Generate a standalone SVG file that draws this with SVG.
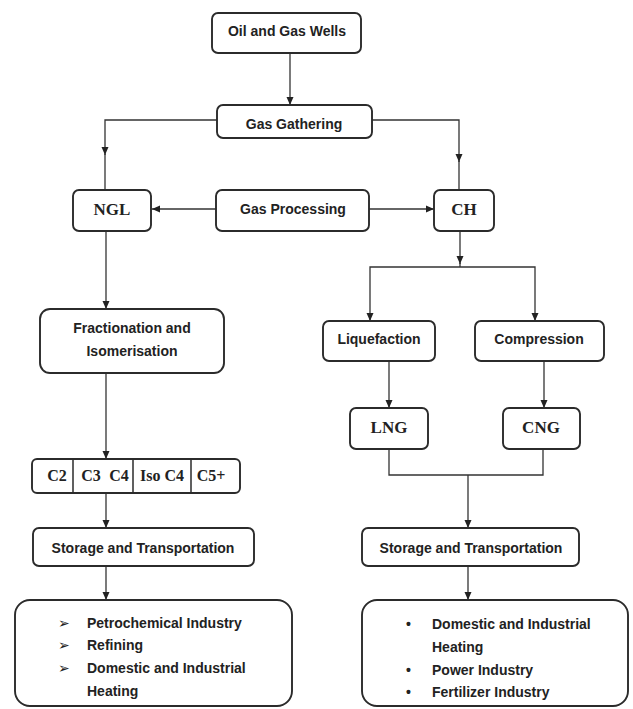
<svg xmlns="http://www.w3.org/2000/svg" width="633" height="709" viewBox="0 0 633 709">
<style>
.box{fill:#fff;stroke:#2b2b2b;stroke-width:1.9}
.lbl{font-family:"Liberation Sans",Arial,sans-serif;font-weight:bold;font-size:14px;fill:#222;text-anchor:middle}
.ser{font-family:"Liberation Serif","Times New Roman",serif;font-weight:bold;font-size:17px;fill:#222;text-anchor:middle}
.cr{font-family:"Liberation Serif","Times New Roman",serif;font-weight:bold;font-size:16px;fill:#222;text-anchor:middle}
.li{font-family:"Liberation Sans",Arial,sans-serif;font-weight:bold;font-size:14px;fill:#222}
.bul{font-family:"DejaVu Sans",sans-serif;font-size:14px;fill:#222}
.con{fill:none;stroke:#333;stroke-width:1.3}
.div{stroke:#2b2b2b;stroke-width:1.5}
</style>
<defs>
<marker id="ah" markerUnits="userSpaceOnUse" markerWidth="8" markerHeight="8" viewBox="0 0 8 8" refX="8" refY="4" orient="auto">
<path d="M0,0.5 L8,4 L0,7.5 Z" fill="#222"/>
</marker>
</defs>
<rect width="633" height="709" fill="#fff"/>
<g id="connectors">
<path class="con" d="M290,53 V105" marker-end="url(#ah)"/>
<path class="con" d="M217,120 H105 V155" marker-end="url(#ah)"/>
<path class="con" d="M105,154 V190"/>
<path class="con" d="M372,120 H459 V162" marker-end="url(#ah)"/>
<path class="con" d="M459,161 V190"/>
<path class="con" d="M216,209 H152" marker-end="url(#ah)"/>
<path class="con" d="M369,209 H434" marker-end="url(#ah)"/>
<path class="con" d="M106,231 V309" marker-end="url(#ah)"/>
<path class="con" d="M106,373 V459" marker-end="url(#ah)"/>
<path class="con" d="M106,458 V528" marker-end="url(#ah)"/>
<path class="con" d="M106,566 V600" marker-end="url(#ah)"/>
<path class="con" d="M460,231 V264" marker-end="url(#ah)"/>
<path class="con" d="M460,263 V267"/>
<path class="con" d="M460,267 H370 V321" marker-end="url(#ah)"/>
<path class="con" d="M460,267 H535 V321" marker-end="url(#ah)"/>
<path class="con" d="M389,361 V408" marker-end="url(#ah)"/>
<path class="con" d="M544,361 V408" marker-end="url(#ah)"/>
<path class="con" d="M389,449 V475 H543 V449"/>
<path class="con" d="M468,475 V528" marker-end="url(#ah)"/>
<path class="con" d="M468,566 V600" marker-end="url(#ah)"/>
</g>
<g id="oil-gas-wells"><rect class="box" x="212" y="13" width="149" height="40" rx="6"/><text class="lbl" x="287" y="36">Oil and Gas Wells</text></g>
<g id="gas-gathering"><rect class="box" x="217" y="105" width="155" height="33" rx="6"/><text class="lbl" x="294" y="129">Gas Gathering</text></g>
<g id="ngl"><rect class="box" x="73" y="190" width="78" height="41" rx="6"/><text class="ser" x="112" y="215">NGL</text></g>
<g id="gas-processing"><rect class="box" x="216" y="190" width="153" height="41" rx="6"/><text class="lbl" x="293" y="214">Gas Processing</text></g>
<g id="ch"><rect class="box" x="434" y="190" width="60" height="41" rx="6"/><text class="ser" x="464" y="215">CH</text></g>
<g id="fractionation"><rect class="box" x="40" y="309" width="184" height="64" rx="10"/><text class="lbl" x="132" y="333">Fractionation and</text><text class="lbl" x="132" y="356">Isomerisation</text></g>
<g id="liquefaction"><rect class="box" x="323" y="321" width="112" height="40" rx="6"/><text class="lbl" x="379" y="344">Liquefaction</text></g>
<g id="compression"><rect class="box" x="475" y="321" width="129" height="40" rx="6"/><text class="lbl" x="539" y="344">Compression</text></g>
<g id="lng"><rect class="box" x="350" y="408" width="78" height="41" rx="6"/><text class="ser" x="389" y="433">LNG</text></g>
<g id="cng"><rect class="box" x="503" y="408" width="77" height="41" rx="6"/><text class="ser" x="541" y="433">CNG</text></g>
<g id="components"><rect class="box" x="32" y="459" width="208" height="34" rx="5"/>
<line class="div" x1="73" y1="459" x2="73" y2="493"/><line class="div" x1="133" y1="459" x2="133" y2="493"/><line class="div" x1="191" y1="459" x2="191" y2="493"/>
<text class="cr" x="57" y="481">C2</text><text class="cr" x="91" y="481">C3</text><text class="cr" x="119" y="481">C4</text><text class="cr" x="162" y="481">Iso C4</text><text class="cr" x="211" y="481">C5+</text></g>
<g id="storage-left"><rect class="box" x="33" y="528" width="221" height="38" rx="6"/><text class="lbl" x="143" y="553">Storage and Transportation</text></g>
<g id="storage-right"><rect class="box" x="362" y="528" width="217" height="38" rx="6"/><text class="lbl" x="471" y="553">Storage and Transportation</text></g>
<g id="uses-ngl"><rect class="box" x="15" y="600" width="277" height="106" rx="15"/>
<text class="bul" x="58" y="628">➢</text><text class="li" x="87" y="628">Petrochemical Industry</text>
<text class="bul" x="58" y="650">➢</text><text class="li" x="87" y="650">Refining</text>
<text class="bul" x="58" y="673">➢</text><text class="li" x="87" y="673">Domestic and Industrial</text>
<text class="li" x="87" y="696">Heating</text></g>
<g id="uses-cng"><rect class="box" x="362" y="600" width="266" height="106" rx="15"/>
<text class="li" x="406" y="629">•</text><text class="li" x="432" y="629">Domestic and Industrial</text>
<text class="li" x="432" y="652">Heating</text>
<text class="li" x="406" y="675">•</text><text class="li" x="432" y="675">Power Industry</text>
<text class="li" x="406" y="697">•</text><text class="li" x="432" y="697">Fertilizer Industry</text></g>
</svg>
